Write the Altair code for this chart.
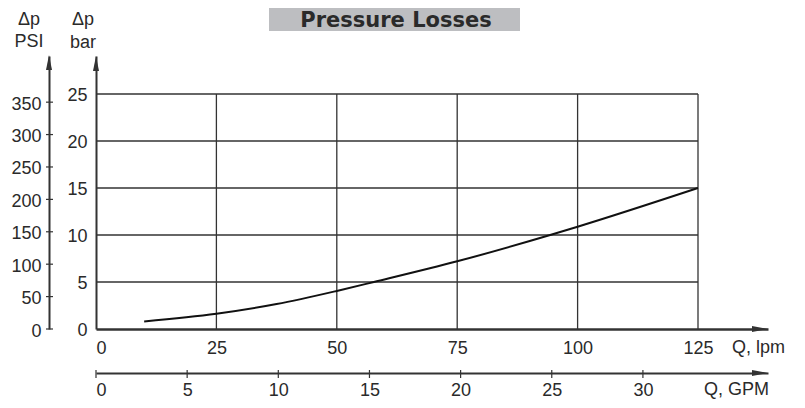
import altair as alt
import pandas as pd

# ---------------- data ----------------
LPM_PER_GPM = 3.78541
PSI_PER_BAR = 14.5038

flow_lpm = [10, 25, 37.5, 50, 57.7, 75, 94.3, 100, 125]
dp_bar = [0.8, 1.62, 2.65, 4.05, 5.0, 7.2, 10.0, 10.88, 15.0]

lpm_ticks = [0, 25, 50, 75, 100, 125]
gpm_ticks = [0, 5, 10, 15, 20, 25, 30]
bar_ticks = [0, 5, 10, 15, 20, 25]
psi_ticks = [0, 50, 100, 150, 200, 250, 300, 350]

grid_lpm = [25, 50, 75, 100, 125]
grid_bar = [5, 10, 15, 20, 25]

# ---------------- layout ----------------
W, H = 672, 273
X_MAX = 125 * W / 602      # axis extends past 125 lpm up to the arrow tip
Y_MAX = 25 * H / 235       # axis extends past 25 bar up to the arrow tip

FONT = "Liberation Sans"
INK = "#2a2a2a"
LINE = "#333333"

curve_df = pd.DataFrame({"lpm": flow_lpm, "bar": dp_bar})
vgrid_df = pd.DataFrame({"lpm": grid_lpm, "bar": [0] * len(grid_lpm), "bar2": [25] * len(grid_lpm)})
hgrid_df = pd.DataFrame({"bar": grid_bar, "lpm": [0] * len(grid_bar), "lpm2": [125] * len(grid_bar)})
psi_df = pd.DataFrame({"psi": psi_ticks})
gpm_df = pd.DataFrame({"gpm": gpm_ticks})
one = pd.DataFrame({"k": [0]})

lab = dict(labelFont=FONT, labelFontSize=18, labelColor=INK, domainColor=LINE,
           ticks=False, grid=False, title=None)

x_lpm = alt.X("lpm:Q", scale=alt.Scale(domain=[0, X_MAX], nice=False, zero=True),
              axis=alt.Axis(values=lpm_ticks, orient="bottom", domainWidth=2.5,
                            labelPadding=10, labelFlush=True, **lab))
y_bar = alt.Y("bar:Q", scale=alt.Scale(domain=[0, Y_MAX], nice=False, zero=True),
              axis=alt.Axis(values=bar_ticks, orient="left", domainWidth=2,
                            labelPadding=9, labelOffset=1.5, **lab))

hgrid = alt.Chart(hgrid_df).mark_rule(color=LINE, strokeWidth=1.3).encode(
    x=x_lpm, x2=alt.X2("lpm2"), y=y_bar)
vgrid = alt.Chart(vgrid_df).mark_rule(color=LINE, strokeWidth=1.3).encode(
    x=x_lpm, y=y_bar, y2=alt.Y2("bar2"))
curve = alt.Chart(curve_df).mark_line(color="#111111", strokeWidth=2,
                                      interpolate="monotone").encode(x=x_lpm, y=y_bar)
main = alt.layer(hgrid, vgrid, curve)

# secondary axes: PSI (left, outer) and GPM (bottom, lower)
x_gpm = alt.X("gpm:Q", scale=alt.Scale(domain=[0, X_MAX / LPM_PER_GPM], nice=False, zero=True),
              axis=alt.Axis(values=gpm_ticks, orient="bottom", offset=44, domainWidth=2,
                            labelPadding=8, labelFlush=True, **lab))
y_psi = alt.Y("psi:Q", scale=alt.Scale(domain=[0, Y_MAX * PSI_PER_BAR], nice=False, zero=True),
              axis=alt.Axis(values=psi_ticks, orient="left", offset=47, domainWidth=2,
                            labelPadding=8, labelOffset=2, **lab))

psi_rules = alt.Chart(psi_df).mark_rule(color=LINE, strokeWidth=1.2).encode(
    y=y_psi, x=alt.value(-50), x2=alt.value(-43))
gpm_rules = alt.Chart(gpm_df).mark_rule(color=LINE, strokeWidth=1.2).encode(
    x=x_gpm, y=alt.value(H + 41), y2=alt.value(H + 49))
secondary = alt.layer(psi_rules, gpm_rules)

# decorations: arrows, axis captions, title box
UP = "M0,0L0.2,1L-0.2,1Z"
RIGHT = "M0,0L-1,-0.19L-1,0.19Z"


def arrow(shape, size, x, y):
    return alt.Chart(one).mark_point(shape=shape, size=size, filled=True, opacity=1,
                                     color=LINE, strokeWidth=0).encode(
        x=alt.value(x), y=alt.value(y))


def txt(s, x, y, size=18, align="center", baseline="alphabetic", font=FONT, weight="normal"):
    return alt.Chart(one).mark_text(text=s, font=font, fontSize=size, align=align,
                                    baseline=baseline, color=INK, fontWeight=weight).encode(
        x=alt.value(x), y=alt.value(y))


title_box = alt.Chart(one).mark_rect(color="#bdbec1").encode(
    x=alt.value(173), x2=alt.value(424), y=alt.value(-48), y2=alt.value(-25))

deco = alt.layer(
    title_box,
    txt("Pressure Losses", 300, -35.5, size=21, baseline="middle",
        font="DejaVu Sans", weight="bold"),
    txt("Δp", -67, -31), txt("PSI", -67, -9),
    txt("Δp", -13, -31), txt("bar", -13, -8),
    txt("Q, lpm", 636, 292, align="left", baseline="middle"),
    txt("Q, GPM", 608, 334, align="left", baseline="middle"),
    arrow(UP, 900, 0, 0),
    arrow(UP, 900, -47, -1),
    arrow(RIGHT, 1024, W, H),
    arrow(RIGHT, 1024, W, H + 44),
)

chart = alt.layer(main, secondary, deco).resolve_scale(
    x="independent", y="independent"
).properties(
    width=W, height=H,
    autosize=alt.AutoSizeParams(type="none"),
    padding={"left": 88, "top": 48, "right": 25, "bottom": 71},
    background="white",
).configure_view(stroke=None)

chart.save("out.html", embed_options={"renderer": "svg", "actions": False})
